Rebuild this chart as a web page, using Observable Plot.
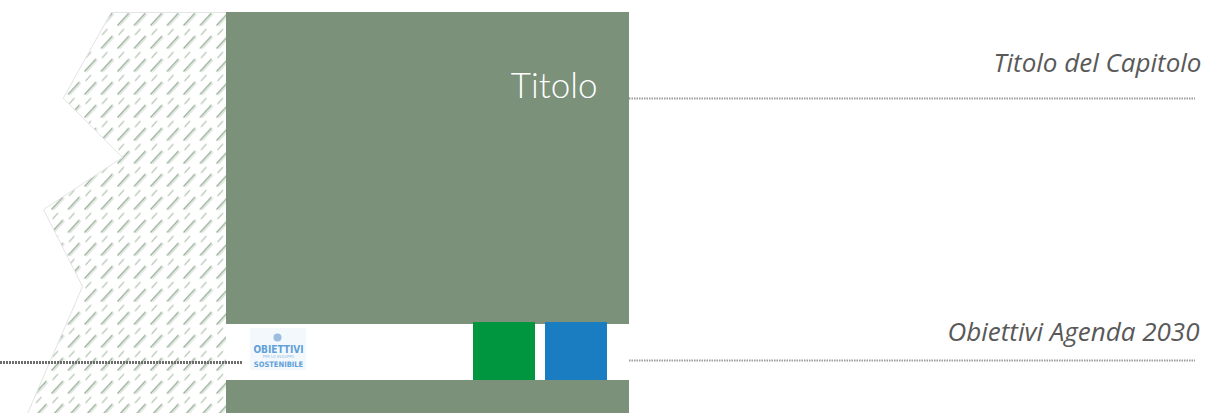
<!DOCTYPE html>
<html>
<head>
<meta charset="utf-8">
<script src="https://cdn.jsdelivr.net/npm/d3@7"></script>
<script src="https://cdn.jsdelivr.net/npm/@observablehq/plot@0.6"></script>
<style>
  html, body { margin: 0; padding: 0; background: #ffffff; }
  #chart svg { display: block; }
</style>
</head>
<body>
<div id="chart"></div>
<script>
// ---- layout data ----
const hatchOutline = [
  {x: 111, y: 12}, {x: 226, y: 12}, {x: 226, y: 413}, {x: 27, y: 413},
  {x: 82, y: 286}, {x: 43, y: 209}, {x: 122, y: 157}, {x: 63, y: 98}
];
const blockNames = ["panel", "band", "footer", "green goal", "blue goal", "logo bg"];
const blockX1 = [226, 226, 226, 473, 545, 250];
const blockX2 = [629, 629, 629, 535, 607, 306];
const blockY1 = [12, 324, 380, 322, 322, 328];
const blockY2 = [324, 380, 413, 380, 380, 370];
const blockFill = ["#7b917a", "#ffffff", "#7b917a", "#00963f", "#1a7dc2", "#f3f8fc"];

const ruleNames = ["chapter rule", "goals rule", "left rule"];
const ruleX1 = [629, 629, 0];
const ruleX2 = [1195, 1195, 242];
const ruleY = [98, 360, 362];

const labels = ["Titolo", "Titolo del Capitolo", "Obiettivi Agenda 2030"];
const labelX = [597, 1201, 1199];
const labelY = [97, 71, 340];

const logoTexts = ["OBIETTIVI", "PER LO SVILUPPO", "SOSTENIBILE"];
const logoY = [352, 357.5, 366];

const blocks = blockNames.map((name, i) => ({name, x1: blockX1[i], x2: blockX2[i], y1: blockY1[i], y2: blockY2[i], fill: blockFill[i]}));
const rules = ruleNames.map((name, i) => ({name, x1: ruleX1[i], x2: ruleX2[i], y: ruleY[i]}));
const texts = labels.map((t, i) => ({t, x: labelX[i], y: labelY[i]}));
const logo = logoTexts.map((t, i) => ({t, x: 278, y: logoY[i]}));

const svg = Plot.plot({
  width: 1209,
  height: 413,
  margin: 0,
  x: {domain: [0, 1209], range: [0, 1209], axis: null},
  y: {domain: [0, 413], range: [0, 413], axis: null},
  style: {background: "#ffffff"},
  marks: [
    Plot.line(hatchOutline, {x: "x", y: "y", curve: "linear-closed", fill: "url(#hatch)", stroke: "#e4e4e4", strokeWidth: 1}),
    Plot.rect(blocks, {x1: "x1", x2: "x2", y1: "y1", y2: "y2", fill: d => d.fill}),
    Plot.ruleY(rules.slice(0, 2), {y: "y", x1: "x1", x2: "x2", stroke: "#9c9c9c", strokeWidth: 2, strokeDasharray: "1.5,1"}),
    Plot.ruleY(rules.slice(2), {y: "y", x1: "x1", x2: "x2", stroke: "#6d6d6d", strokeWidth: 3, strokeDasharray: "2,1"}),
    Plot.dot([{x: 277, y: 337}], {x: "x", y: "y", r: 4, fill: "#9bbde0"}),
    Plot.text(logo.slice(0, 1), {x: "x", y: "y", text: "t", fill: "#5fa0d8", fontSize: 10, fontWeight: "bold", fontFamily: "Liberation Sans Narrow, DejaVu Sans Condensed, sans-serif", lineAnchor: "bottom"}),
    Plot.text(logo.slice(1, 2), {x: "x", y: "y", text: "t", fill: "#8dbbe3", fontSize: 4, fontFamily: "DejaVu Sans Condensed, sans-serif", lineAnchor: "bottom"}),
    Plot.text(logo.slice(2), {x: "x", y: "y", text: "t", fill: "#5fa0d8", fontSize: 7.5, fontWeight: "bold", fontFamily: "Liberation Sans Narrow, DejaVu Sans Condensed, sans-serif", lineAnchor: "bottom"}),
    Plot.text(texts.slice(0, 1), {x: "x", y: "y", text: "t", textAnchor: "end", lineAnchor: "bottom", fill: "#ffffff", fontSize: 35, fontWeight: 300, fontFamily: "Lato, sans-serif"}),
    Plot.text(texts.slice(1), {x: "x", y: "y", text: "t", textAnchor: "end", lineAnchor: "bottom", fill: "#595959", fontSize: 26, fontStyle: "italic", fontFamily: "Open Sans, sans-serif"})
  ]
});

// hatch texture (pattern definition only)
const ns = "http://www.w3.org/2000/svg";
const defs = document.createElementNS(ns, "defs");
const pat = document.createElementNS(ns, "pattern");
pat.setAttribute("id", "hatch");
pat.setAttribute("patternUnits", "userSpaceOnUse");
pat.setAttribute("x", "0");
pat.setAttribute("y", "12");
pat.setAttribute("width", "16.5");
pat.setAttribute("height", "23");
const dash = document.createElementNS(ns, "line");
dash.setAttribute("x1", "1.5"); dash.setAttribute("y1", "13");
dash.setAttribute("x2", "13"); dash.setAttribute("y2", "0.5");
dash.setAttribute("stroke", "#668866");
dash.setAttribute("stroke-width", "1.1");
pat.appendChild(dash);
const dash2 = document.createElementNS(ns, "line");
dash2.setAttribute("x1", "3.5"); dash2.setAttribute("y1", "13.5");
dash2.setAttribute("x2", "14.5"); dash2.setAttribute("y2", "1.5");
dash2.setAttribute("stroke", "#b4c4b4");
dash2.setAttribute("stroke-width", "0.8");
pat.appendChild(dash2);
const dash3 = document.createElementNS(ns, "line");
dash3.setAttribute("x1", "2.5"); dash3.setAttribute("y1", "22.5");
dash3.setAttribute("x2", "8"); dash3.setAttribute("y2", "16.5");
dash3.setAttribute("stroke", "#94ab94");
dash3.setAttribute("stroke-width", "1");
pat.appendChild(dash3);
defs.appendChild(pat);
svg.insertBefore(defs, svg.firstChild);

document.getElementById("chart").appendChild(svg);
</script>
</body>
</html>
